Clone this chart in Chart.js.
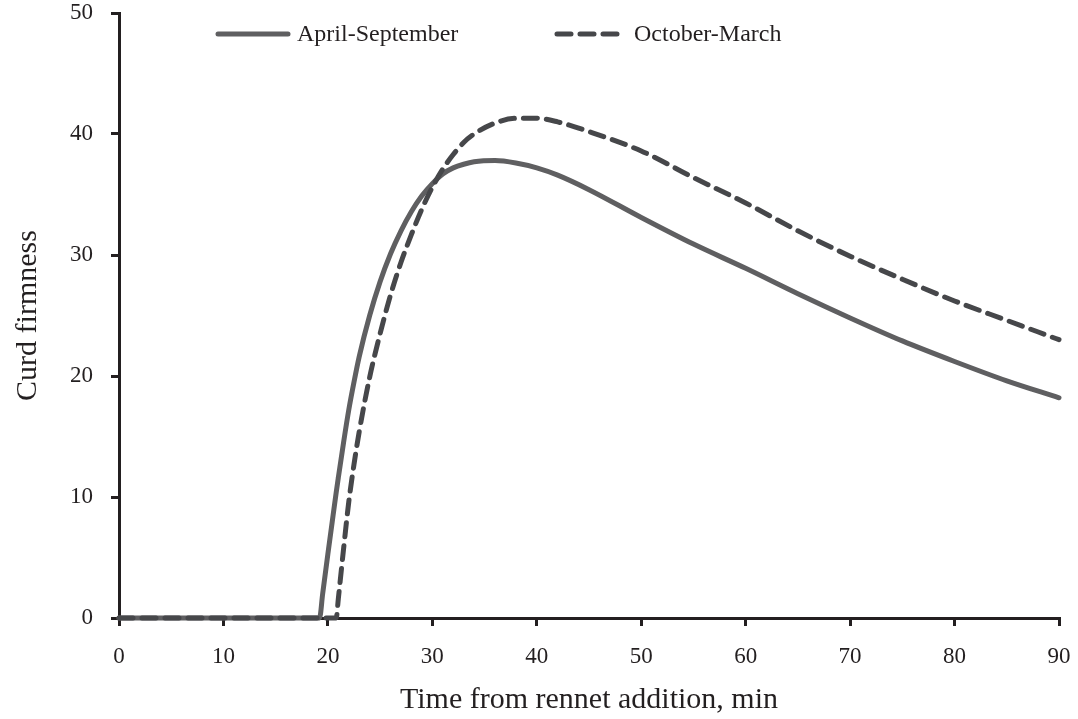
<!DOCTYPE html>
<html>
<head>
<meta charset="utf-8">
<script src="https://cdn.jsdelivr.net/npm/chart.js@4.4.1/dist/chart.umd.min.js"></script>
<style>
html,body{margin:0;padding:0;background:#fff;}
#wrap{width:1078px;height:719px;position:relative;}
</style>
</head>
<body>
<div id="wrap"><canvas id="c" width="1078" height="719"></canvas></div>
<script>
// ---- data ----
const timeMin        = [0, 19.2, 19.5, 20, 20.5, 20.8, 21, 21.5, 22, 22.5, 23, 24, 25, 26, 27, 28, 29, 30, 31, 32, 33, 34, 36, 38, 40, 42, 45, 50, 55, 60, 65, 70, 75, 80, 85, 90];
const aprilSeptember = [0, 0, 2.0, 5.3, 8.5, 10.4, 11.6, 14.5, 17.2, 19.5, 21.6, 25.0, 27.8, 30.1, 32.0, 33.6, 34.9, 35.9, 36.7, 37.2, 37.5, 37.7, 37.8, 37.6, 37.2, 36.6, 35.4, 33.1, 30.9, 28.9, 26.8, 24.8, 22.9, 21.2, 19.6, 18.2];
const octoberMarch   = [0, 0, 0, 0, 0, 0, 1.6, 5.7, 9.6, 12.7, 15.4, 19.9, 23.5, 26.7, 29.4, 31.7, 33.8, 35.6, 37.1, 38.3, 39.3, 40.0, 40.9, 41.3, 41.3, 41.0, 40.2, 38.6, 36.4, 34.3, 32.0, 29.9, 28.0, 26.2, 24.6, 23.0];
const seriesNames    = ['April-September', 'October-March'];
const yTicks         = [0, 10, 20, 30, 40, 50];
const xTicks         = [0, 10, 20, 30, 40, 50, 60, 70, 80, 90];

const toPoints = (ys) => timeMin.map((t, i) => ({x: t, y: ys[i]}));

const SERIF = '"Liberation Serif", "DejaVu Serif", serif';
const AXIS = '#231f20';

const legendPlugin = {
  id: 'customLegend',
  afterDraw(chart) {
    const ctx = chart.ctx;
    const items = [
      {ds: chart.data.datasets[0], x0: 218, x1: 288, tx: 297},
      {ds: chart.data.datasets[1], x0: 557, x1: 625, tx: 634}
    ];
    const y = 34;
    ctx.save();
    items.forEach(it => {
      ctx.beginPath();
      ctx.strokeStyle = it.ds.borderColor;
      ctx.lineWidth = it.ds.borderWidth;
      ctx.lineCap = 'round';
      ctx.setLineDash(it.ds.borderDash || []);
      ctx.moveTo(it.x0, y);
      ctx.lineTo(it.x1, y);
      ctx.stroke();
      ctx.setLineDash([]);
      ctx.fillStyle = AXIS;
      ctx.font = '24px ' + SERIF;
      ctx.textBaseline = 'middle';
      ctx.textAlign = 'left';
      ctx.fillText(it.ds.label, it.tx, y + 1);
    });
    ctx.restore();
  }
};

new Chart(document.getElementById('c'), {
  type: 'line',
  data: {
    datasets: [
      {
        label: seriesNames[0],
        data: toPoints(aprilSeptember),
        borderColor: '#5f5f61',
        borderWidth: 5,
        borderCapStyle: 'round',
        pointRadius: 0,
        cubicInterpolationMode: 'monotone',
        fill: false,
        clip: false,
        order: 1
      },
      {
        label: seriesNames[1],
        data: toPoints(octoberMarch),
        borderColor: '#46474a',
        borderWidth: 5,
        borderDash: [14, 9],
        borderCapStyle: 'round',
        pointRadius: 0,
        cubicInterpolationMode: 'monotone',
        fill: false,
        clip: false,
        order: 0
      }
    ]
  },
  options: {
    responsive: false,
    animation: false,
    events: [],
    layout: {padding: {left: 0, right: 19, top: 13, bottom: 0}},
    plugins: {legend: {display: false}, tooltip: {enabled: false}},
    scales: {
      x: {
        type: 'linear',
        min: 0, max: 90,
        afterBuildTicks(scale) { scale.ticks = xTicks.map(v => ({value: v})); },
        afterFit(scale) { scale.height = 101; scale.paddingLeft = 0; scale.paddingRight = 0; },
        ticks: {color: AXIS, font: {family: SERIF, size: 23}, padding: 17, maxRotation: 0, autoSkip: false},
        grid: {display: true, drawOnChartArea: false, drawTicks: true, tickLength: 8, color: AXIS, lineWidth: 3},
        border: {display: true, color: AXIS, width: 3},
        title: {display: true, text: 'Time from rennet addition, min', color: AXIS, font: {family: SERIF, size: 30}, padding: {top: 1, bottom: 1}}
      },
      y: {
        type: 'linear',
        min: 0, max: 50,
        afterBuildTicks(scale) { scale.ticks = yTicks.map(v => ({value: v})); },
        afterFit(scale) { scale.width = 119; scale.paddingTop = 0; scale.paddingBottom = 0; },
        ticks: {color: AXIS, font: {family: SERIF, size: 23}, padding: 18},
        grid: {display: true, drawOnChartArea: false, drawTicks: true, tickLength: 8, color: AXIS, lineWidth: 3},
        border: {display: true, color: AXIS, width: 3},
        title: {display: true, text: 'Curd firmness', color: AXIS, font: {family: SERIF, size: 30}, padding: {top: 10, bottom: 4}}
      }
    }
  },
  plugins: [legendPlugin]
});
</script>
</body>
</html>
